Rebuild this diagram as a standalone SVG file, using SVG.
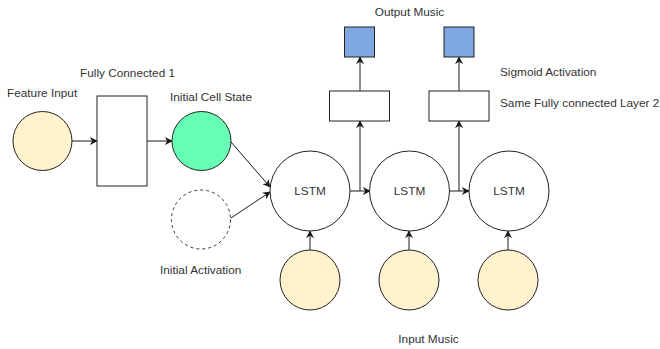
<svg xmlns="http://www.w3.org/2000/svg" width="660" height="349" viewBox="0 0 660 349">
  <defs>
    <marker id="arrow" viewBox="0 0 10 10" refX="9" refY="5" markerWidth="8" markerHeight="8" markerUnits="userSpaceOnUse" orient="auto">
      <path d="M0,0 L10,5 L0,10 L3,5 Z" fill="#1a1a1a"/>
    </marker>
    <style>
      .lbl { font-family: "Liberation Sans", Arial, sans-serif; font-size: 11.8px; fill: #333; }
      .mid { text-anchor: middle; }
      .edge { fill: none; stroke: #1a1a1a; stroke-width: 1; }
      .arr { marker-end: url(#arrow); }
      .input { fill: #fff2cc; stroke: #222; stroke-width: 1; }
      .cell { fill: #ffffff; stroke: #222; stroke-width: 1; }
      .box { fill: #ffffff; stroke: #222; stroke-width: 1; }
      .out { fill: #7ea6e0; stroke: #222; stroke-width: 1; }
    </style>
  </defs>
  <rect width="660" height="349" fill="#ffffff"/>

  <!-- connectors -->
  <g id="connectors">
    <line class="edge arr" x1="72" y1="141" x2="97" y2="141"/>
    <line class="edge arr" x1="147" y1="141" x2="172" y2="141"/>
    <line class="edge arr" x1="231" y1="142" x2="270" y2="187"/>
    <line class="edge arr" x1="231" y1="218" x2="270" y2="192"/>
    <line class="edge arr" x1="350" y1="191" x2="370" y2="191"/>
    <line class="edge arr" x1="449" y1="191" x2="469" y2="191"/>
    <line class="edge arr" x1="360" y1="191" x2="360" y2="121"/>
    <line class="edge arr" x1="459" y1="191" x2="459" y2="121"/>
    <line class="edge arr" x1="360" y1="91" x2="360" y2="57"/>
    <line class="edge arr" x1="459" y1="91" x2="459" y2="57"/>
    <line class="edge arr" x1="310" y1="250" x2="310" y2="231"/>
    <line class="edge arr" x1="409" y1="250" x2="409" y2="231"/>
    <line class="edge arr" x1="508" y1="250" x2="508" y2="231"/>
  </g>

  <g id="feature-input">
    <circle class="input" cx="42.5" cy="141" r="29.5"/>
    <text class="lbl" x="7" y="97">Feature Input</text>
  </g>

  <g id="fully-connected-1">
    <rect class="box" x="97" y="96" width="50" height="90"/>
    <text class="lbl" x="80" y="77">Fully Connected 1</text>
  </g>

  <g id="initial-cell-state">
    <circle cx="201.5" cy="141" r="29.5" fill="#66ffb3" stroke="#222" stroke-width="1"/>
    <text class="lbl" x="170" y="101">Initial Cell State</text>
  </g>

  <g id="initial-activation">
    <circle cx="201" cy="219.5" r="29.5" fill="#ffffff" stroke="#333" stroke-width="1" stroke-dasharray="3,3"/>
    <text class="lbl" x="160" y="274">Initial Activation</text>
  </g>

  <g id="lstm-1">
    <circle class="cell" cx="310" cy="191" r="40"/>
    <text class="lbl mid" x="310" y="195">LSTM</text>
  </g>
  <g id="lstm-2">
    <circle class="cell" cx="409.5" cy="191" r="40"/>
    <text class="lbl mid" x="409.5" y="195">LSTM</text>
  </g>
  <g id="lstm-3">
    <circle class="cell" cx="509" cy="191" r="40"/>
    <text class="lbl mid" x="509" y="195">LSTM</text>
  </g>

  <g id="dense-2a">
    <rect class="box" x="329.5" y="91" width="60" height="30"/>
  </g>
  <g id="dense-2b">
    <rect class="box" x="429" y="91" width="60" height="30"/>
  </g>

  <g id="output-1">
    <rect class="out" x="344.5" y="27" width="30" height="30"/>
  </g>
  <g id="output-2">
    <rect class="out" x="444" y="27" width="30" height="30"/>
  </g>

  <g id="input-music-1">
    <circle class="input" cx="310" cy="280" r="30"/>
  </g>
  <g id="input-music-2">
    <circle class="input" cx="409" cy="280" r="30"/>
  </g>
  <g id="input-music-3">
    <circle class="input" cx="508" cy="280" r="30"/>
  </g>

  <g id="labels">
    <text class="lbl mid" x="409.5" y="16">Output Music</text>
    <text class="lbl" x="500" y="76">Sigmoid Activation</text>
    <text class="lbl" x="500" y="107">Same Fully connected Layer 2</text>
    <text class="lbl mid" x="428.5" y="343">Input Music</text>
  </g>
</svg>
